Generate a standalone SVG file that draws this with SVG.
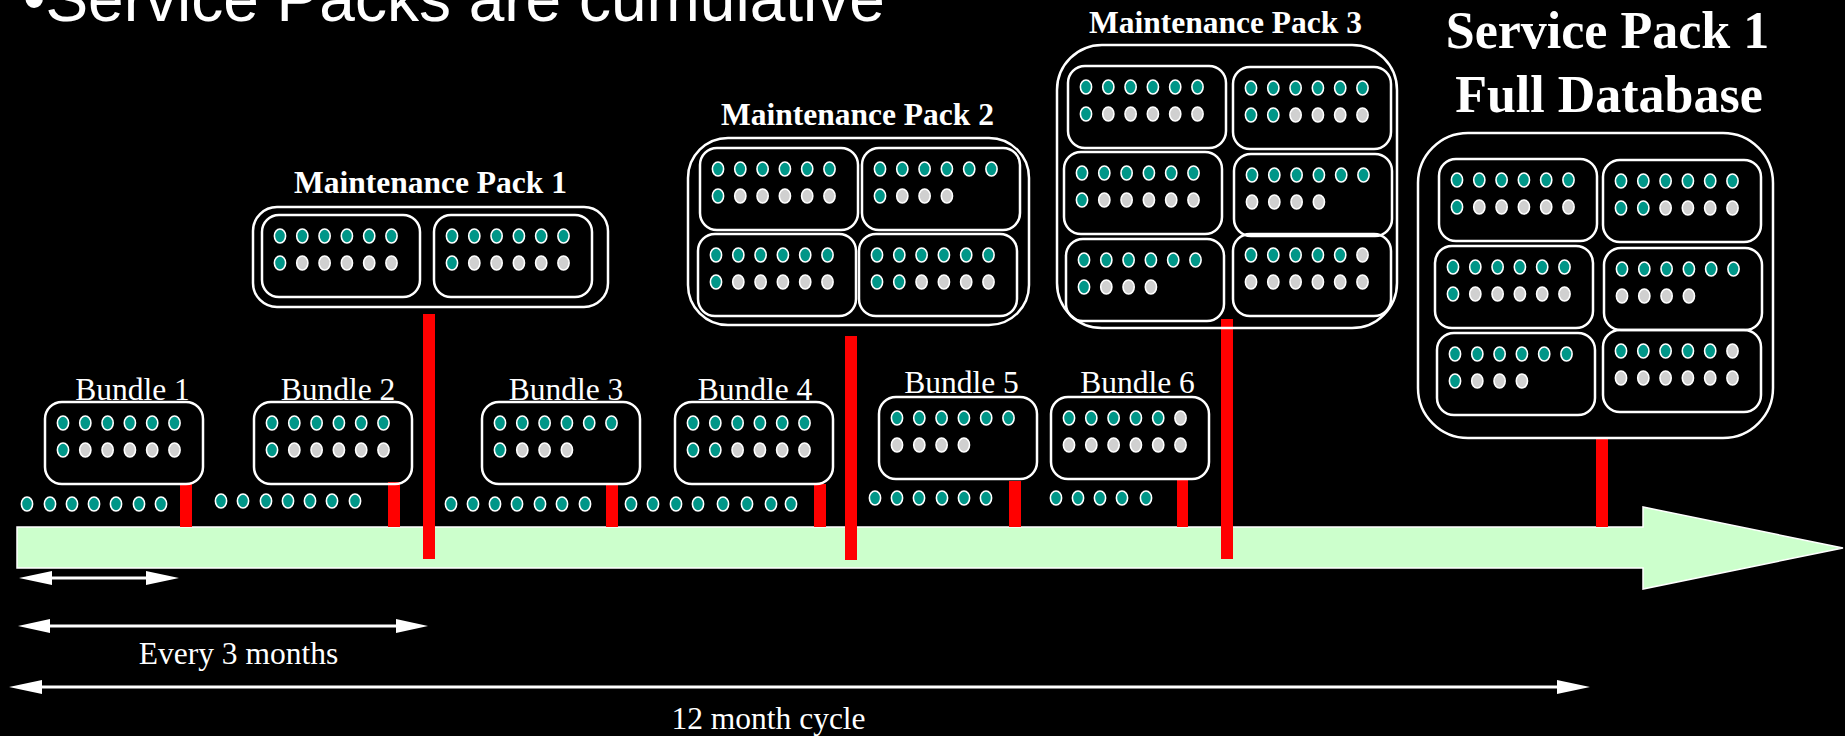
<svg xmlns="http://www.w3.org/2000/svg" xmlns:xlink="http://www.w3.org/1999/xlink" width="1845" height="736" viewBox="0 0 1845 736">
  <style>
    text { fill: #ffffff; }
    .hd { font-family: "Liberation Sans", Arial, sans-serif; font-size: 64px; }
    .lbl { font-family: "Liberation Serif", "Times New Roman", serif; font-size: 31.5px; text-anchor: middle; }
    .mp { font-family: "Liberation Serif", "Times New Roman", serif; font-size: 31.5px; font-weight: bold; text-anchor: middle; }
    .sp { font-family: "Liberation Serif", "Times New Roman", serif; font-size: 52px; font-weight: bold; text-anchor: middle; }
    .box { fill: none; stroke: #ffffff; stroke-width: 2.5; }
    .red { fill: #ff0000; }
    .dim { stroke: #ffffff; stroke-width: 3; fill: none; }
    .head { fill: #ffffff; }
  </style>
  <defs>
    <!-- record dots: teal = included, grey = empty slot -->
    <ellipse id="dt" rx="5.6" ry="7" fill="#009688" stroke="#ffffff" stroke-width="1.6"/>
    <ellipse id="dg" rx="5.6" ry="7" fill="#d0d0d0" stroke="#ffffff" stroke-width="1.6"/>
    <g id="rowT">
      <use xlink:href="#dt" x="18"/><use xlink:href="#dt" x="40.3"/><use xlink:href="#dt" x="62.6"/>
      <use xlink:href="#dt" x="84.9"/><use xlink:href="#dt" x="107.2"/><use xlink:href="#dt" x="129.5"/>
    </g>
    <!-- bundle cards, 158 x 82 -->
    <g id="pA">
      <rect class="box" width="158" height="82" rx="17"/>
      <use xlink:href="#rowT" y="21"/>
      <use xlink:href="#dt" x="18" y="48"/><use xlink:href="#dg" x="40.3" y="48"/><use xlink:href="#dg" x="62.6" y="48"/>
      <use xlink:href="#dg" x="84.9" y="48"/><use xlink:href="#dg" x="107.2" y="48"/><use xlink:href="#dg" x="129.5" y="48"/>
    </g>
    <g id="pC">
      <rect class="box" width="158" height="82" rx="17"/>
      <use xlink:href="#rowT" y="21"/>
      <use xlink:href="#dt" x="18" y="48"/><use xlink:href="#dg" x="40.3" y="48"/><use xlink:href="#dg" x="62.6" y="48"/>
      <use xlink:href="#dg" x="84.9" y="48"/>
    </g>
    <g id="pD">
      <rect class="box" width="158" height="82" rx="17"/>
      <use xlink:href="#rowT" y="21"/>
      <use xlink:href="#dt" x="18" y="48"/><use xlink:href="#dt" x="40.3" y="48"/><use xlink:href="#dg" x="62.6" y="48"/>
      <use xlink:href="#dg" x="84.9" y="48"/><use xlink:href="#dg" x="107.2" y="48"/><use xlink:href="#dg" x="129.5" y="48"/>
    </g>
    <g id="pE">
      <rect class="box" width="158" height="82" rx="17"/>
      <use xlink:href="#rowT" y="21"/>
      <use xlink:href="#dg" x="18" y="48"/><use xlink:href="#dg" x="40.3" y="48"/><use xlink:href="#dg" x="62.6" y="48"/>
      <use xlink:href="#dg" x="84.9" y="48"/>
    </g>
    <g id="pF">
      <rect class="box" width="158" height="82" rx="17"/>
      <use xlink:href="#dt" x="18" y="21"/><use xlink:href="#dt" x="40.3" y="21"/><use xlink:href="#dt" x="62.6" y="21"/>
      <use xlink:href="#dt" x="84.9" y="21"/><use xlink:href="#dt" x="107.2" y="21"/><use xlink:href="#dg" x="129.5" y="21"/>
      <use xlink:href="#dg" x="18" y="48"/><use xlink:href="#dg" x="40.3" y="48"/><use xlink:href="#dg" x="62.6" y="48"/>
      <use xlink:href="#dg" x="84.9" y="48"/><use xlink:href="#dg" x="107.2" y="48"/><use xlink:href="#dg" x="129.5" y="48"/>
    </g>
  </defs>

  <rect width="1845" height="736" fill="#000000"/>

  <text id="heading" class="hd" x="23" y="21">•Service Packs are cumulative</text>

  <!-- timeline -->
  <g id="timeline">
    <path d="M17,527 H1643 V507 L1843,548 L1643,589 V568 H17 Z" fill="#ccffcc" stroke="#ffffff" stroke-width="1.5"/>
  </g>

  <!-- loose records between releases -->
  <g id="loose-records">
    <use xlink:href="#dt" x="27" y="504"/><use xlink:href="#dt" x="50" y="504"/><use xlink:href="#dt" x="72" y="504"/>
    <use xlink:href="#dt" x="94" y="504"/><use xlink:href="#dt" x="116" y="504"/><use xlink:href="#dt" x="139" y="504"/>
    <use xlink:href="#dt" x="161" y="504"/>

    <use xlink:href="#dt" x="221" y="501"/><use xlink:href="#dt" x="243" y="501"/><use xlink:href="#dt" x="266" y="501"/>
    <use xlink:href="#dt" x="288" y="501"/><use xlink:href="#dt" x="310" y="501"/><use xlink:href="#dt" x="332" y="501"/>
    <use xlink:href="#dt" x="355" y="501"/>

    <use xlink:href="#dt" x="451" y="504"/><use xlink:href="#dt" x="473" y="504"/><use xlink:href="#dt" x="495" y="504"/>
    <use xlink:href="#dt" x="517" y="504"/><use xlink:href="#dt" x="540" y="504"/><use xlink:href="#dt" x="562" y="504"/>
    <use xlink:href="#dt" x="585" y="504"/>

    <use xlink:href="#dt" x="631" y="504"/><use xlink:href="#dt" x="653" y="504"/><use xlink:href="#dt" x="676" y="504"/>
    <use xlink:href="#dt" x="698" y="504"/><use xlink:href="#dt" x="723" y="504"/><use xlink:href="#dt" x="747" y="504"/>
    <use xlink:href="#dt" x="771" y="504"/><use xlink:href="#dt" x="791" y="504"/>

    <use xlink:href="#dt" x="875" y="498"/><use xlink:href="#dt" x="897" y="498"/><use xlink:href="#dt" x="919" y="498"/>
    <use xlink:href="#dt" x="942" y="498"/><use xlink:href="#dt" x="964" y="498"/><use xlink:href="#dt" x="986" y="498"/>

    <use xlink:href="#dt" x="1056" y="498"/><use xlink:href="#dt" x="1078" y="498"/><use xlink:href="#dt" x="1100" y="498"/>
    <use xlink:href="#dt" x="1122" y="498"/><use xlink:href="#dt" x="1146" y="498"/>
  </g>

  <!-- release markers tying each release to the timeline -->
  <g id="connectors">
    <rect class="red" x="180" y="484" width="12" height="43"/>
    <rect class="red" x="388" y="482" width="12" height="45"/>
    <rect class="red" x="606" y="484" width="12" height="43"/>
    <rect class="red" x="814" y="484" width="12" height="43"/>
    <rect class="red" x="1009" y="481" width="12" height="46"/>
    <rect class="red" x="1177" y="480" width="11" height="47"/>
    <rect class="red" x="423" y="314" width="12" height="245"/>
    <rect class="red" x="845" y="336" width="12" height="224"/>
    <rect class="red" x="1221" y="319" width="12" height="240"/>
    <rect class="red" x="1596" y="439" width="12" height="88"/>
  </g>

  <!-- bundles -->
  <g id="bundle1">
    <text class="lbl" x="132.5" y="400">Bundle 1</text>
    <use xlink:href="#pA" x="45" y="402"/>
  </g>
  <g id="bundle2">
    <text class="lbl" x="338" y="400">Bundle 2</text>
    <use xlink:href="#pA" x="254" y="402"/>
  </g>
  <g id="bundle3">
    <text class="lbl" x="566" y="400">Bundle 3</text>
    <use xlink:href="#pC" x="482" y="402"/>
  </g>
  <g id="bundle4">
    <text class="lbl" x="755" y="400">Bundle 4</text>
    <use xlink:href="#pD" x="675" y="402"/>
  </g>
  <g id="bundle5">
    <text class="lbl" x="961.5" y="393">Bundle 5</text>
    <use xlink:href="#pE" x="879" y="397"/>
  </g>
  <g id="bundle6">
    <text class="lbl" x="1137.5" y="393">Bundle 6</text>
    <use xlink:href="#pF" x="1051" y="397"/>
  </g>

  <!-- maintenance packs -->
  <g id="maintenance-pack-1">
    <text class="mp" x="430.5" y="193">Maintenance Pack 1</text>
    <rect class="box" x="253" y="207" width="355" height="100" rx="24"/>
    <use xlink:href="#pA" x="262" y="215"/>
    <use xlink:href="#pA" x="434" y="215"/>
  </g>
  <g id="maintenance-pack-2">
    <text class="mp" x="857.5" y="125">Maintenance Pack 2</text>
    <rect class="box" x="688" y="138" width="341" height="187" rx="40"/>
    <use xlink:href="#pA" x="700" y="148"/>
    <use xlink:href="#pC" x="862" y="148"/>
    <use xlink:href="#pA" x="698" y="234"/>
    <use xlink:href="#pD" x="859" y="234"/>
  </g>
  <g id="maintenance-pack-3">
    <text class="mp" x="1225.5" y="33">Maintenance Pack 3</text>
    <rect class="box" x="1057" y="45" width="340" height="283" rx="45"/>
    <use xlink:href="#pA" x="1068" y="66"/>
    <use xlink:href="#pD" x="1233" y="67"/>
    <use xlink:href="#pA" x="1064" y="152"/>
    <use xlink:href="#pE" x="1234" y="154"/>
    <use xlink:href="#pC" x="1066" y="239"/>
    <use xlink:href="#pF" x="1233" y="234"/>
  </g>

  <!-- service pack -->
  <g id="service-pack-1">
    <text class="sp" x="1607.5" y="48">Service Pack 1</text>
    <text class="sp" x="1609" y="112">Full Database</text>
    <rect class="box" x="1418" y="133" width="355" height="305" rx="50"/>
    <use xlink:href="#pA" x="1439" y="159"/>
    <use xlink:href="#pD" x="1603" y="160"/>
    <use xlink:href="#pA" x="1435" y="246"/>
    <use xlink:href="#pE" x="1604" y="248"/>
    <use xlink:href="#pC" x="1437" y="333"/>
    <use xlink:href="#pF" x="1603" y="330"/>
  </g>

  <!-- period spans -->
  <g id="spans">
    <path class="dim" d="M45,578 H152"/>
    <path class="head" d="M19,578 L52,571 L52,585 Z"/>
    <path class="head" d="M179,578 L146,571 L146,585 Z"/>

    <path class="dim" d="M45,626 H402"/>
    <path class="head" d="M18,626 L50,619 L50,633 Z"/>
    <path class="head" d="M428,626 L396,619 L396,633 Z"/>
    <text class="lbl" x="238.5" y="664">Every 3 months</text>

    <path class="dim" d="M35,687 H1563"/>
    <path class="head" d="M9,687 L42,680 L42,694 Z"/>
    <path class="head" d="M1590,687 L1557,680 L1557,694 Z"/>
    <text class="lbl" x="768.5" y="729">12 month cycle</text>
  </g>
</svg>
